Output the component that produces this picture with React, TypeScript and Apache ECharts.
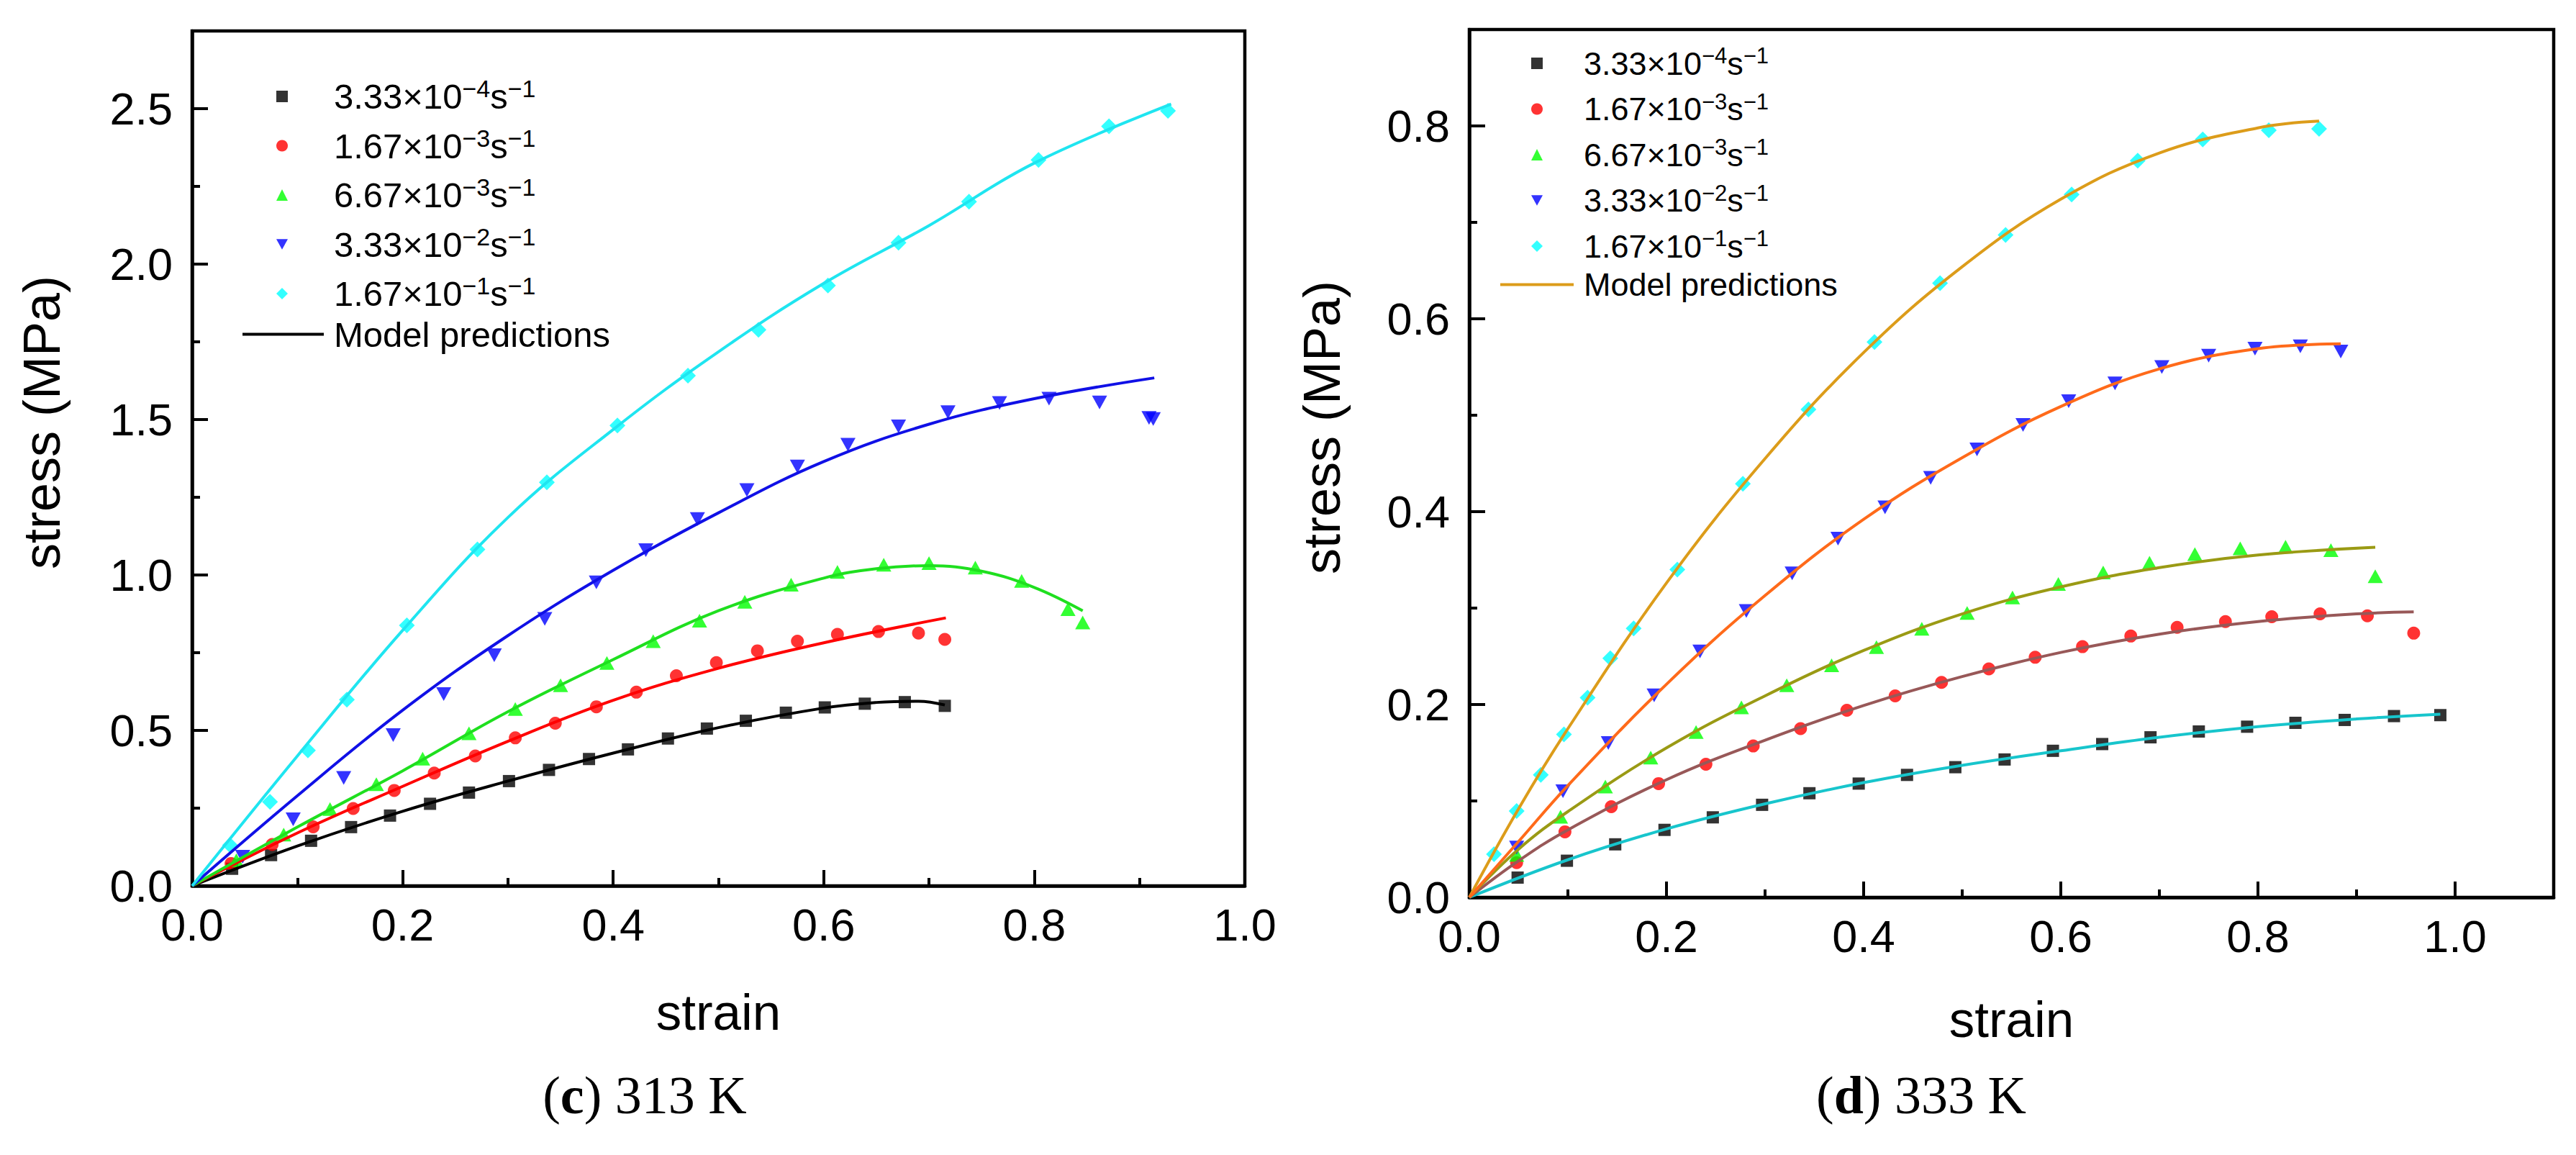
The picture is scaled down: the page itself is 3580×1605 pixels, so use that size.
import React, { useEffect, useRef } from "react";
import * as echarts from "echarts";

const FONT = '"Liberation Sans", Arial, Helvetica, sans-serif';
const SERIF = '"Liberation Serif", "Times New Roman", serif';

// legend labels: base and exponent of the strain rate
const RATE_BASES = ["3.33×10", "1.67×10", "6.67×10", "3.33×10", "1.67×10"];
const RATE_EXPS = ["−4", "−3", "−3", "−2", "−1"];
const RATE_NAMES = RATE_BASES.map((b, i) => b + RATE_EXPS[i] + "s−1");
const MODEL_NAME = "Model predictions";

const MARKER_COLORS = ["#000000", "#ff0000", "#00ff00", "#0000ff", "#00ffff"];
const MARKER_SYMBOLS = ["rect", "circle", "triangle", "triangle", "diamond"];
const MARKER_ROTATE = [0, 0, 0, 180, 0];
const MARKER_SIZES: any[] = [17, 18, [21, 19], [21, 19], [22, 22]];
const LEGEND_ICONS = ["rect", "circle", "triangle", "path://M0,0L10,0L5,9Z", "diamond"];

// ---------- (c) 313 K ----------
const C_X0 = [0.038, 0.075, 0.113, 0.151, 0.188, 0.226, 0.263, 0.301, 0.339, 0.377, 0.414, 0.452, 0.489, 0.526, 0.564, 0.601, 0.639, 0.677, 0.715];
const C_Y0 = [0.055, 0.099, 0.145, 0.189, 0.226, 0.264, 0.300, 0.337, 0.373, 0.408, 0.439, 0.474, 0.506, 0.531, 0.557, 0.574, 0.586, 0.591, 0.579];
const C_X1 = [0.037, 0.076, 0.115, 0.153, 0.192, 0.230, 0.269, 0.307, 0.345, 0.384, 0.422, 0.460, 0.498, 0.537, 0.575, 0.613, 0.652, 0.690, 0.715];
const C_Y1 = [0.072, 0.133, 0.190, 0.249, 0.307, 0.363, 0.418, 0.476, 0.523, 0.576, 0.623, 0.676, 0.718, 0.756, 0.787, 0.809, 0.818, 0.813, 0.793];
const C_X2 = [0.042, 0.087, 0.131, 0.175, 0.219, 0.263, 0.307, 0.350, 0.394, 0.438, 0.482, 0.525, 0.569, 0.613, 0.657, 0.700, 0.744, 0.788, 0.832, 0.846];
const C_Y2 = [0.082, 0.165, 0.247, 0.327, 0.409, 0.491, 0.569, 0.645, 0.717, 0.787, 0.853, 0.914, 0.969, 1.010, 1.033, 1.038, 1.024, 0.981, 0.890, 0.847];
const C_X3 = [0.048, 0.096, 0.144, 0.191, 0.239, 0.287, 0.335, 0.384, 0.431, 0.480, 0.527, 0.575, 0.623, 0.671, 0.718, 0.767, 0.814, 0.862, 0.909, 0.913];
const C_Y3 = [0.094, 0.214, 0.347, 0.485, 0.617, 0.742, 0.859, 0.976, 1.080, 1.180, 1.273, 1.349, 1.419, 1.478, 1.524, 1.553, 1.567, 1.555, 1.505, 1.502];
const C_X4 = [0.036, 0.074, 0.110, 0.147, 0.204, 0.271, 0.337, 0.404, 0.471, 0.538, 0.604, 0.671, 0.738, 0.804, 0.871, 0.927];
const C_Y4 = [0.131, 0.270, 0.436, 0.599, 0.838, 1.082, 1.298, 1.481, 1.641, 1.789, 1.931, 2.069, 2.201, 2.335, 2.443, 2.493];

const C_LX0 = [0, 0.1, 0.2, 0.3, 0.4, 0.5, 0.6, 0.65, 0.69, 0.715];
const C_LY0 = [0, 0.128, 0.240, 0.337, 0.427, 0.509, 0.572, 0.590, 0.594, 0.582];
const C_LX1 = [0, 0.1, 0.2, 0.3, 0.4, 0.5, 0.6, 0.716];
const C_LY1 = [0, 0.170, 0.320, 0.465, 0.597, 0.700, 0.782, 0.862];
const C_LX2 = [0, 0.1, 0.2, 0.3, 0.4, 0.5, 0.6, 0.65, 0.7, 0.75, 0.8, 0.846];
const C_LY2 = [0, 0.189, 0.370, 0.560, 0.728, 0.885, 0.990, 1.020, 1.030, 1.012, 0.960, 0.885];
const C_LX3 = [0, 0.1, 0.2, 0.3, 0.4, 0.5, 0.6, 0.7, 0.8, 0.914];
const C_LY3 = [0, 0.290, 0.565, 0.805, 1.015, 1.200, 1.365, 1.485, 1.567, 1.634];
const C_LX4 = [0, 0.1, 0.2, 0.3, 0.4, 0.5, 0.6, 0.7, 0.8, 0.93];
const C_LY4 = [0, 0.418, 0.822, 1.185, 1.468, 1.718, 1.938, 2.124, 2.325, 2.515];
const C_LINE_COLORS = ["#000000", "#ff0000", "#1fdf1f", "#1010e6", "#1fe5f0"];

// ---------- (d) 333 K ----------
const D_X0 = [0.049, 0.099, 0.148, 0.198, 0.247, 0.297, 0.345, 0.395, 0.444, 0.493, 0.543, 0.592, 0.642, 0.691, 0.740, 0.789, 0.838, 0.888, 0.938, 0.985];
const D_Y0 = [0.0205, 0.038, 0.055, 0.070, 0.083, 0.096, 0.108, 0.118, 0.127, 0.135, 0.143, 0.152, 0.159, 0.166, 0.172, 0.177, 0.181, 0.184, 0.188, 0.189];
const D_X1 = [0.048, 0.097, 0.144, 0.192, 0.240, 0.288, 0.336, 0.383, 0.432, 0.479, 0.527, 0.574, 0.622, 0.671, 0.718, 0.767, 0.814, 0.863, 0.911, 0.958];
const D_Y1 = [0.036, 0.068, 0.094, 0.118, 0.138, 0.157, 0.175, 0.194, 0.209, 0.223, 0.237, 0.249, 0.260, 0.271, 0.280, 0.286, 0.291, 0.294, 0.292, 0.274];
const D_X2 = [0.048, 0.0925, 0.138, 0.184, 0.230, 0.276, 0.322, 0.3675, 0.413, 0.459, 0.505, 0.551, 0.5975, 0.643, 0.690, 0.736, 0.782, 0.828, 0.874, 0.919];
const D_Y2 = [0.044, 0.0835, 0.115, 0.145, 0.1715, 0.197, 0.220, 0.2406, 0.2596, 0.2786, 0.295, 0.311, 0.325, 0.337, 0.347, 0.356, 0.362, 0.3636, 0.360, 0.333];
const D_X3 = [0.048, 0.095, 0.141, 0.1875, 0.234, 0.281, 0.3275, 0.374, 0.4217, 0.468, 0.515, 0.5617, 0.608, 0.655, 0.7025, 0.750, 0.797, 0.843, 0.884];
const D_Y3 = [0.0516, 0.110, 0.160, 0.2095, 0.255, 0.297, 0.336, 0.372, 0.4045, 0.435, 0.4645, 0.490, 0.5146, 0.533, 0.550, 0.5617, 0.569, 0.5715, 0.566];
const D_X4 = [0.025, 0.048, 0.0725, 0.096, 0.120, 0.143, 0.1667, 0.211, 0.2775, 0.344, 0.411, 0.4775, 0.544, 0.611, 0.678, 0.744, 0.811, 0.862];
const D_Y4 = [0.0448, 0.0896, 0.127, 0.169, 0.207, 0.248, 0.279, 0.340, 0.429, 0.506, 0.576, 0.637, 0.687, 0.729, 0.764, 0.786, 0.7955, 0.797];

const D_LX0 = [0, 0.1, 0.2, 0.3, 0.4, 0.5, 0.6, 0.7, 0.8, 0.9, 0.985];
const D_LY0 = [0, 0.039, 0.071, 0.097, 0.119, 0.137, 0.152, 0.166, 0.177, 0.185, 0.190];
const D_LX1 = [0, 0.05, 0.1, 0.2, 0.3, 0.4, 0.5, 0.6, 0.7, 0.8, 0.9, 0.958];
const D_LY1 = [0, 0.038, 0.070, 0.122, 0.163, 0.199, 0.229, 0.254, 0.273, 0.286, 0.294, 0.296];
const D_LX2 = [0, 0.05, 0.1, 0.2, 0.3, 0.4, 0.5, 0.6, 0.7, 0.8, 0.919];
const D_LY2 = [0, 0.050, 0.089, 0.155, 0.209, 0.256, 0.294, 0.322, 0.342, 0.355, 0.363];
const D_LX3 = [0, 0.05, 0.1, 0.2, 0.3, 0.4, 0.5, 0.6, 0.7, 0.8, 0.884];
const D_LY3 = [0, 0.058, 0.116, 0.221, 0.313, 0.392, 0.456, 0.509, 0.548, 0.569, 0.574];
const D_LX4 = [0, 0.05, 0.1, 0.2, 0.3, 0.4, 0.5, 0.6, 0.7, 0.8, 0.862];
const D_LY4 = [0, 0.092, 0.175, 0.326, 0.455, 0.565, 0.654, 0.724, 0.772, 0.798, 0.805];
const D_LINE_COLORS = ["#17c5cc", "#985858", "#9a9a14", "#ff6a1a", "#dc9c1a"];

const pairs = (xs: number[], ys: number[]) => xs.map((x, i) => [x, ys[i]]);

function buildOption(cfg: any) {
  const scatters = cfg.markers.map((m: any, i: number) => ({
    type: "scatter",
    name: RATE_NAMES[i],
    data: pairs(m[0], m[1]),
    symbol: MARKER_SYMBOLS[i],
    symbolSize: MARKER_SIZES[i],
    symbolRotate: MARKER_ROTATE[i],
    itemStyle: { color: MARKER_COLORS[i] },
    z: 2,
    silent: true,
  }));
  const lines = cfg.lineOrder.map((i: number) => ({
    type: "line",
    name: MODEL_NAME,
    data: pairs(cfg.lines[i][0], cfg.lines[i][1]),
    smooth: 0.4,
    symbol: "none",
    showSymbol: false,
    lineStyle: { color: cfg.lineColors[i], width: 4 },
    itemStyle: { color: cfg.lineColors[i] },
    z: 3,
    silent: true,
  }));
  const lg = cfg.legend;
  const richFor = (pad: number) => ({
    n: { fontSize: lg.font, fontFamily: FONT, color: "#000", lineHeight: lg.lh },
    s: { fontSize: lg.sup, fontFamily: FONT, color: "#000", lineHeight: lg.supLh, verticalAlign: "top" },
    g: { width: pad, fontSize: lg.font, lineHeight: lg.lh },
  });
  const axisCommon = {
    type: "value",
    axisLine: { show: true, lineStyle: { color: "#000", width: 4.5 } },
    axisTick: { show: true, inside: true, length: 22, lineStyle: { color: "#000", width: 4 } },
    minorTick: { show: true, splitNumber: 2, length: 11, lineStyle: { color: "#000", width: 4 } },
    splitLine: { show: false },
    minorSplitLine: { show: false },
  };
  const labelCommon = {
    fontSize: 63,
    fontFamily: FONT,
    color: "#000",
    showMaxLabel: false,
    formatter: (v: number) => v.toFixed(1),
  };
  const markerLegendLeft = lg.markerCx - 8;
  const markerPad = lg.textX - (markerLegendLeft + 16 + 5);
  const modelPad = lg.textX - (lg.lineLeft + lg.lineWidth + 5);
  return {
    animation: false,
    backgroundColor: "#ffffff",
    grid: {
      left: cfg.grid.left,
      top: cfg.grid.top,
      width: cfg.grid.width,
      height: cfg.grid.height,
      show: true,
      borderColor: "#000",
      borderWidth: 4.5,
      backgroundColor: "transparent",
    },
    xAxis: {
      ...axisCommon,
      min: 0,
      max: cfg.xMax,
      interval: 0.2,
      name: "strain",
      nameLocation: "middle",
      nameGap: cfg.xNameGap,
      nameTextStyle: { fontSize: 71, fontFamily: FONT, color: "#000" },
      axisLabel: { ...labelCommon, margin: 22, showMaxLabel: cfg.xShowMax },
    },
    yAxis: {
      ...axisCommon,
      min: 0,
      max: cfg.yMax,
      interval: cfg.yInterval,
      name: "stress (MPa)",
      nameLocation: "middle",
      nameGap: cfg.yNameGap,
      nameTextStyle: { fontSize: 72, fontFamily: FONT, color: "#000", padding: [0, 0, 0, 100] },
      axisLabel: { ...labelCommon, margin: 27 },
    },
    legend: [
      {
        orient: "vertical",
        left: markerLegendLeft,
        top: lg.top,
        itemWidth: 16,
        itemHeight: 16,
        itemGap: lg.gap,
        selectedMode: false,
        data: RATE_NAMES.map((name, i) => ({ name, icon: LEGEND_ICONS[i] })),
        formatter: (name: string) => {
          const i = RATE_NAMES.indexOf(name);
          return `{g| }{n|${RATE_BASES[i]}}{s|${RATE_EXPS[i]}}{n|s}{s|−1}`;
        },
        textStyle: { fontSize: lg.font, fontFamily: FONT, color: "#000", rich: richFor(markerPad) },
      },
      {
        orient: "vertical",
        left: lg.lineLeft,
        top: lg.modelTop,
        itemWidth: lg.lineWidth,
        itemHeight: 4,
        selectedMode: false,
        data: [{ name: MODEL_NAME, icon: "rect", itemStyle: { color: cfg.modelColor } }],
        formatter: (name: string) => `{g| }{n|${name}}`,
        textStyle: { fontSize: lg.font, fontFamily: FONT, color: "#000", rich: richFor(modelPad) },
      },
    ],
    graphic: [
      {
        type: "text",
        x: cfg.caption.x,
        y: cfg.caption.y,
        style: {
          text: `{r|(}{b|${cfg.caption.letter}}{r|) ${cfg.caption.rest}}`,
          align: "center",
          verticalAlign: "middle",
          rich: {
            r: { fontSize: 74, fontFamily: SERIF, color: "#000" },
            b: { fontSize: 74, fontFamily: SERIF, fontWeight: "bold", color: "#000" },
          },
        },
      },
    ],
    series: [...scatters, ...lines],
  };
}

const LEFT_CFG = {
  markers: [[C_X0, C_Y0], [C_X1, C_Y1], [C_X2, C_Y2], [C_X3, C_Y3], [C_X4, C_Y4]],
  lines: [[C_LX0, C_LY0], [C_LX1, C_LY1], [C_LX2, C_LY2], [C_LX3, C_LY3], [C_LX4, C_LY4]],
  lineColors: C_LINE_COLORS,
  lineOrder: [0, 1, 2, 3, 4],
  modelColor: "#000000",
  grid: { left: 267, top: 43, width: 1463, height: 1188 },
  xMax: 1.0,
  xShowMax: true,
  yMax: 2.75,
  yInterval: 0.5,
  xNameGap: 140,
  yNameGap: 173,
  legend: { markerCx: 387, textX: 459, lineLeft: 332, lineWidth: 113, top: 101, modelTop: 435, gap: 16, font: 49, lh: 56, sup: 34, supLh: 26 },
  caption: { x: 896, y: 1522, letter: "c", rest: "313 K" },
};

const RIGHT_CFG = {
  markers: [[D_X0, D_Y0], [D_X1, D_Y1], [D_X2, D_Y2], [D_X3, D_Y3], [D_X4, D_Y4]],
  lines: [[D_LX0, D_LY0], [D_LX1, D_LY1], [D_LX2, D_LY2], [D_LX3, D_LY3], [D_LX4, D_LY4]],
  lineColors: D_LINE_COLORS,
  lineOrder: [4, 0, 1, 2, 3],
  modelColor: "#dc9c1a",
  grid: { left: 252, top: 41, width: 1507, height: 1206 },
  xMax: 1.1,
  xShowMax: false,
  yMax: 0.9,
  yInterval: 0.2,
  xNameGap: 134,
  yNameGap: 169,
  legend: { markerCx: 341, textX: 406, lineLeft: 290, lineWidth: 102, top: 57, modelTop: 368, gap: 15, font: 45, lh: 52, sup: 31, supLh: 24 },
  caption: { x: 880, y: 1522, letter: "d", rest: "333 K" },
};

function Panel({ cfg, left }: { cfg: any; left: number }) {
  const ref = useRef<HTMLDivElement>(null);
  useEffect(() => {
    if (!ref.current) return;
    const chart = echarts.init(ref.current, undefined, { renderer: "svg" });
    chart.setOption(buildOption(cfg) as any);
    return () => chart.dispose();
  }, [cfg]);
  return (
    <div
      ref={ref}
      style={{ position: "absolute", left, top: 0, width: 1790, height: 1605 }}
    />
  );
}

export default function App() {
  return (
    <div
      style={{
        position: "absolute",
        left: 0,
        top: 0,
        width: 3580,
        height: 1605,
        background: "#ffffff",
        overflow: "hidden",
      }}
    >
      <Panel cfg={LEFT_CFG} left={0} />
      <Panel cfg={RIGHT_CFG} left={1790} />
    </div>
  );
}
